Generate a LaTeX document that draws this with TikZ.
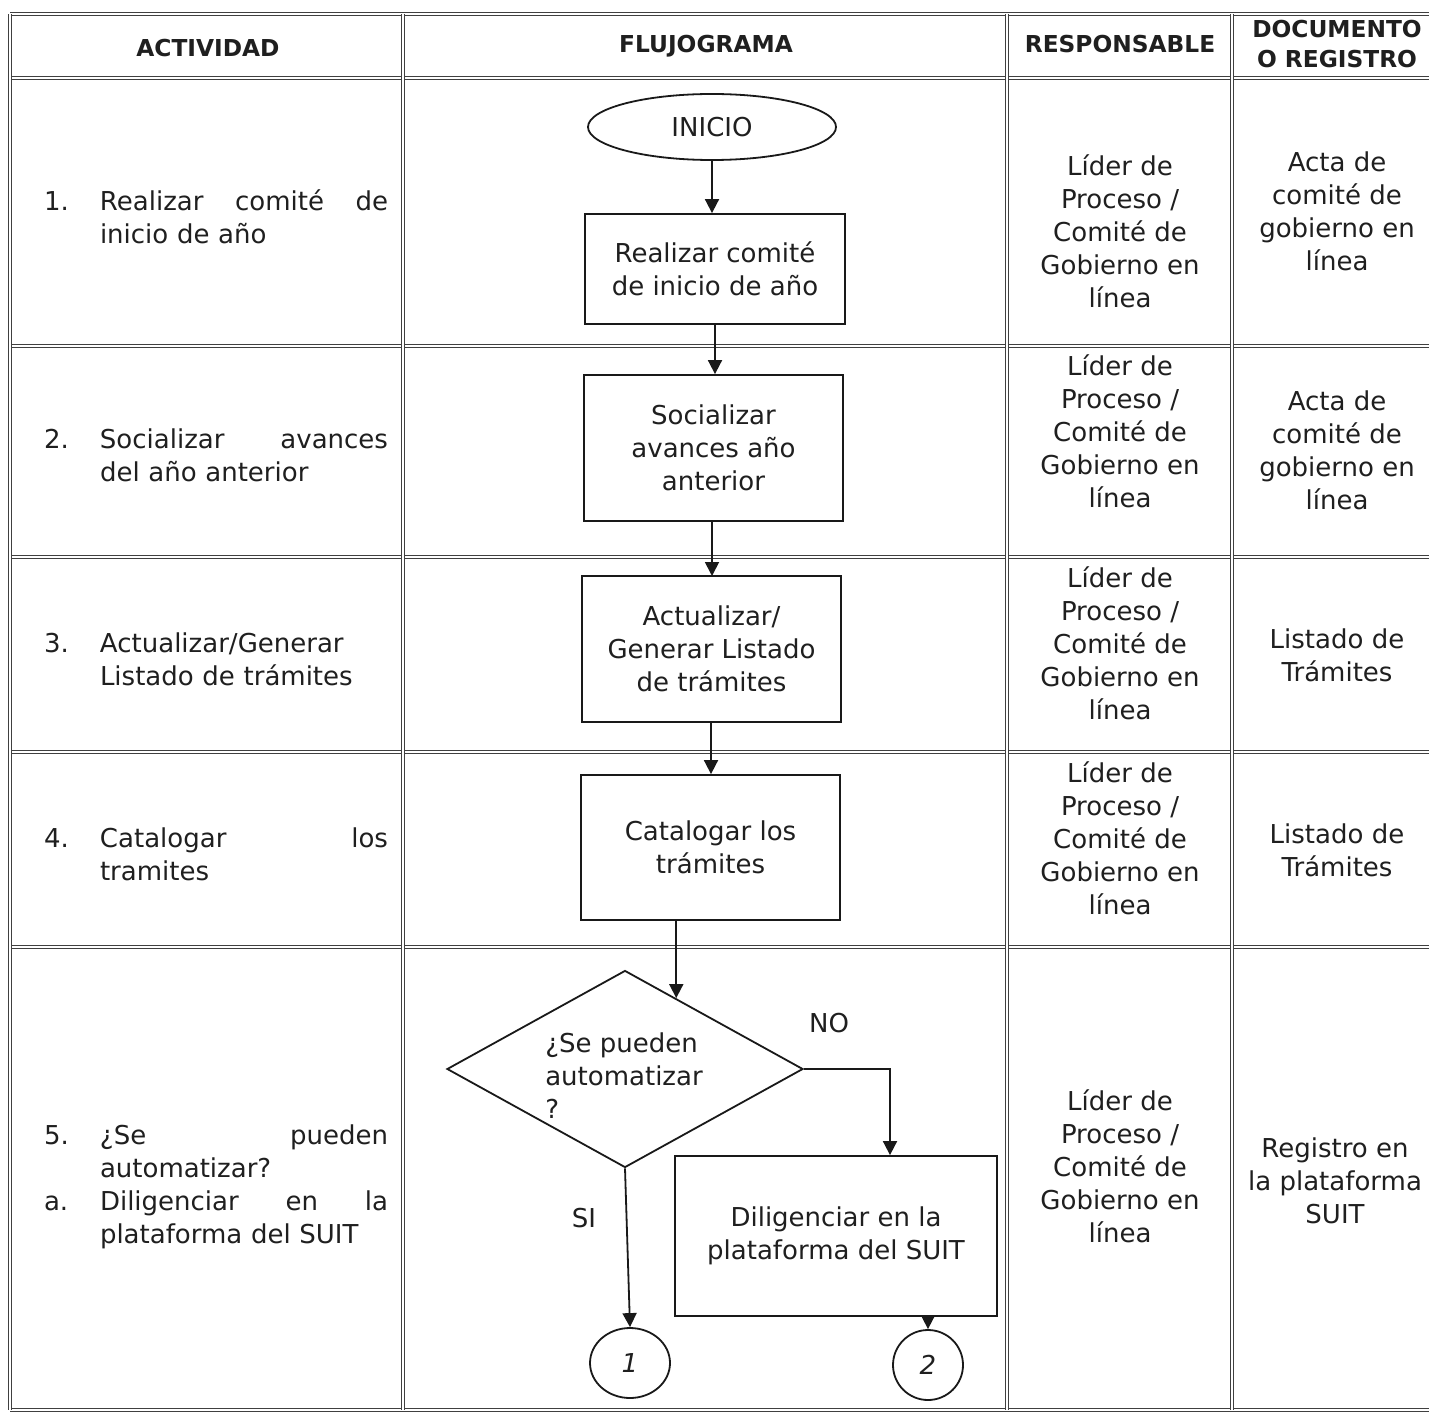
\documentclass[tikz,border=0pt]{standalone}
\usepackage{fontspec}
\setmainfont{DejaVu Sans}
\usetikzlibrary{shapes.geometric,arrows.meta,calc}
\begin{document}
\begin{tikzpicture}[x=1pt,y=-1pt,
  grid/.style={draw=black!75,double=white,line width=1.1pt,double distance=1.8pt},
  txt/.style={font=\fontsize{26}{33}\selectfont,text=black!88,inner sep=0pt,align=center},
  hdr/.style={font=\fontsize{23.3}{30}\selectfont\bfseries,text=black!88,inner sep=0pt,align=center},
  act/.style={txt,text width=344pt,align=left},
  fbox/.style={draw=black!90,line width=1.8pt,rectangle,txt},
  arr/.style={draw=black!90,line width=1.8pt,-{Triangle[length=14pt,width=14pt]}},
  ln/.style={draw=black!90,line width=1.8pt}]
\useasboundingbox (0,0) rectangle (1429,1412);
\clip (0,0) rectangle (1429,1412);
\fill[white] (0,0) rectangle (1429,1412);
% table
\foreach \yy in {14,78,346,557,752,947,1410}{\draw[grid] (10,\yy) -- (1445,\yy);}
\foreach \xx in {10,403,1007,1232}{\draw[grid] (\xx,14) -- (\xx,1410);}
% headers
\node[hdr] (h1) at (208,48) {ACTIVIDAD};
\node[hdr] (h2) at (706,46) {FLUJOGRAMA};
\node[hdr] (h3) at (1120,44) {RESPONSABLE};
\node[hdr] (h4) at (1337,44) {DOCUMENTO\\O REGISTRO};
% activities
\node[act] (a1) at (216,216.5) {\makebox[56pt][l]{1.}\makebox[288pt]{Realizar\hfill comité\hfill de}\\\hspace*{56pt}inicio de año};
\node[act] (a2) at (216,455) {\makebox[56pt][l]{2.}\makebox[288pt]{Socializar\hfill avances}\\\hspace*{56pt}del año anterior};
\node[act] (a3) at (216,659.5) {\makebox[56pt][l]{3.}Actualizar/Generar\\\hspace*{56pt}Listado de trámites};
\node[act] (a4) at (216,854.5) {\makebox[56pt][l]{4.}\makebox[288pt]{Catalogar\hfill los}\\\hspace*{56pt}tramites};
\node[act] (a5) at (216,1187) {\makebox[56pt][l]{5.}\makebox[288pt]{¿Se\hfill pueden}\\\hspace*{56pt}automatizar?\\\makebox[56pt][l]{a.}\makebox[288pt]{Diligenciar\hfill en\hfill la}\\\hspace*{56pt}plataforma del SUIT};
% responsable
\foreach \n/\yy in {r1/231,r2/431,r3/643,r4/838,r5/1166}{
  \node[txt] (\n) at (1120,\yy) {Líder de\\Proceso /\\Comité de\\Gobierno en\\línea};}
% documento
\node[txt] (d1) at (1337,211) {Acta de\\comité de\\gobierno en\\línea};
\node[txt] (d2) at (1337,450) {Acta de\\comité de\\gobierno en\\línea};
\node[txt] (d3) at (1337,655) {Listado de\\Trámites};
\node[txt] (d4) at (1337,850) {Listado de\\Trámites};
\node[txt] (d5) at (1335,1181) {Registro en\\la plataforma\\SUIT};
% flowchart
\node[ellipse,draw=black!90,line width=1.8pt,txt,minimum width=248pt,minimum height=66pt] (ini) at (712,127) {INICIO};
\node[fbox,minimum width=260pt,minimum height=110pt] (b1) at (715,269) {Realizar comité\\de inicio de año};
\node[fbox,minimum width=259pt,minimum height=146pt] (b2) at (713.5,448) {Socializar\\avances año\\anterior};
\node[fbox,minimum width=259pt,minimum height=146pt] (b3) at (711.5,649) {Actualizar/\\Generar Listado\\de trámites};
\node[fbox,minimum width=259pt,minimum height=145pt] (b4) at (710.5,847.5) {Catalogar los\\trámites};
\node[diamond,draw=black!90,line width=1.8pt,inner sep=0pt,minimum width=356pt,minimum height=197pt] (d) at (625,1069) {};
\node[txt,align=left] (dt) at (624,1076) {¿Se pueden\\automatizar\\?};
\node[fbox,minimum width=322pt,minimum height=160pt] (b5) at (836,1236) {Diligenciar en la\\plataforma del SUIT};
\node[ellipse,draw=black!90,line width=1.8pt,txt,minimum width=80pt,minimum height=70pt,font=\fontsize{26}{33}\selectfont\itshape] (c1) at (630,1363) {1};
\node[circle,draw=black!90,line width=1.8pt,txt,minimum size=70pt,font=\fontsize{26}{33}\selectfont\itshape] (c2) at (928,1365) {2};
\node[txt] (no) at (829,1023) {NO};
\node[txt] (si) at (584,1218) {SI};
% connectors
\draw[arr] (ini) -- (ini |- b1.north);
\draw[arr] (b1) -- (b1 |- b2.north);
\draw[arr] (b2.south -| 712,0) -- (712,576);
\coordinate (c3) at (711,722);
\draw[arr] (c3) -- (c3 |- b4.north);
\coordinate (dIn) at ($(d.north)!0.2865!(d.east)$);
\draw[arr] (b4.south -| dIn) -- (dIn);
\coordinate (noX) at (890,1062);
\draw[arr] (d.east) -- (d.east -| noX) -- (noX |- b5.north);
\draw[arr] (d.south) -- (c1.north);
\draw[arr] (b5.south -| c2.north) -- (c2.north);
\end{tikzpicture}
\end{document}
